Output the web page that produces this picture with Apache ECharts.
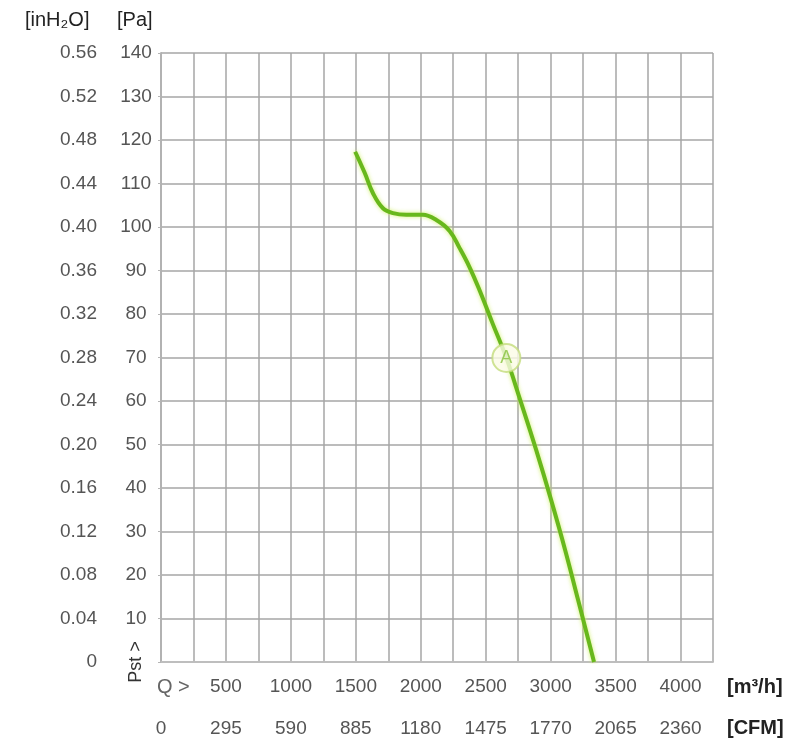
<!DOCTYPE html>
<html>
<head>
<meta charset="utf-8">
<script src="https://cdn.jsdelivr.net/npm/echarts@6/dist/echarts.min.js"></script>
<style>html,body{margin:0;padding:0;background:#fff}#c{width:808px;height:743px}</style>
</head>
<body>
<div id="c"></div>
<script>
// Fan curve: airflow [m3/h] vs static pressure [Pa]
const flow = [1495, 1569, 1633, 1709, 1786, 1889, 2016, 2120, 2222, 2298, 2375, 2452, 2552, 2659, 2766, 2889, 3004, 3112, 3211, 3334];
const pressure = [117.3, 112.4, 107.7, 104.3, 103.2, 102.8, 102.8, 101.6, 99.1, 95.2, 90.8, 85.5, 77.9, 69.9, 60.2, 48.7, 37.2, 25.7, 14.3, 0];
const pointA = [2659, 69.9];
const m3hTicks = [500, 1000, 1500, 2000, 2500, 3000, 3500, 4000];
const cfmTicks = ['0', '295', '590', '885', '1180', '1475', '1770', '2065', '2360'];
// Pa labels from 10 up (the 0 position holds the "Pst >" caption)
const paTicks = ['10', '20', '30', '40', '50', '60', '70', '80', '90', '100', '110', '120', '130', '140'];
const inH2OTicks = ['0', '0.04', '0.08', '0.12', '0.16', '0.20', '0.24', '0.28', '0.32', '0.36', '0.40', '0.44', '0.48', '0.52', '0.56'];

const FONT = 'Liberation Sans';
const GRID = '#a6a6a6';
const LABEL = '#555';
const chart = echarts.init(document.getElementById('c'));
const curve = flow.map((x, i) => [x, pressure[i]]);

chart.setOption({
  animation: false,
  backgroundColor: '#fff',
  grid: { left: 161, right: 95, top: 53, bottom: 81 },
  xAxis: [{
    type: 'value', min: 0, max: 4250, interval: 250, position: 'bottom',
    axisLine: { show: true, lineStyle: { color: GRID, width: 1.5 } },
    axisTick: { show: false },
    splitLine: { show: true, lineStyle: { color: GRID, width: 1.5 } },
    axisLabel: {
      margin: 15, color: LABEL, fontFamily: FONT, fontSize: 19,
      showMaxLabel: false,
      formatter: v => (m3hTicks.indexOf(v) >= 0 ? String(v) : '')
    }
  }, {
    type: 'value', min: 0, max: 4250, interval: 500, position: 'bottom', offset: 46,
    axisLine: { show: true, lineStyle: { color: '#c4c4c4', width: 1.5 } },
    axisTick: { show: false },
    splitLine: { show: false },
    axisLabel: {
      margin: 11, color: LABEL, fontFamily: FONT, fontSize: 19,
      showMaxLabel: false,
      formatter: v => { const k = v / 500; return Number.isInteger(k) && k < cfmTicks.length ? cfmTicks[k] : ''; }
    }
  }],
  yAxis: [{
    type: 'value', min: 0, max: 140, interval: 10, position: 'left',
    axisLine: { show: true, lineStyle: { color: GRID, width: 1.5 } },
    axisTick: { show: false },
    splitLine: { show: true, lineStyle: { color: GRID, width: 1.5 } },
    axisLabel: {
      margin: 25, align: 'center', color: LABEL, fontFamily: FONT, fontSize: 19,
      formatter: v => { const k = v / 10 - 1; return Number.isInteger(k) && k >= 0 && k < paTicks.length ? paTicks[k] : ''; }
    }
  }, {
    type: 'value', min: 0, max: 140, interval: 10, position: 'left', offset: 50,
    axisLine: { show: true, lineStyle: { color: '#b5b5b5', width: 1.5 } },
    axisTick: { show: true, length: 3, lineStyle: { color: '#b5b5b5' } },
    splitLine: { show: false },
    axisLabel: {
      margin: 14, align: 'right', color: LABEL, fontFamily: FONT, fontSize: 19,
      formatter: v => { const k = v / 10; return Number.isInteger(k) && k < inH2OTicks.length ? inH2OTicks[k] : ''; }
    }
  }],
  series: [{
    type: 'line', xAxisIndex: 0, yAxisIndex: 0, data: curve,
    smooth: 0.4, showSymbol: false, silent: true,
    lineStyle: { color: '#68b81c', width: 4, shadowColor: 'rgba(205,238,95,0.9)', shadowBlur: 4 },
    z: 3
  }, {
    type: 'scatter', xAxisIndex: 0, yAxisIndex: 0, data: [pointA],
    symbol: 'circle', symbolSize: 28, silent: true,
    itemStyle: { color: '#fbfbe6', borderColor: '#c3dc7c', borderWidth: 2 },
    label: { show: true, position: 'inside', formatter: 'A', color: '#86c23c', fontFamily: FONT, fontSize: 18 },
    z: 5
  }],
  graphic: [
    { type: 'text', left: 25, top: 10, style: { text: '[inH₂O]', font: '20px "Liberation Sans"', fill: '#222' } },
    { type: 'text', left: 117, top: 10, style: { text: '[Pa]', font: '20px "Liberation Sans"', fill: '#222' } },
    { type: 'text', x: 136, y: 662, rotation: Math.PI / 2,
      style: { text: 'Pst >', font: '18px "Liberation Sans"', fill: '#333', textAlign: 'center', textVerticalAlign: 'middle' } },
    { type: 'text', x: 157, y: 687, style: { text: 'Q >', font: '20px "Liberation Sans"', fill: '#666', textVerticalAlign: 'middle' } },
    { type: 'text', x: 727, y: 687, style: { text: '[m³/h]', font: 'bold 20px "Liberation Sans"', fill: '#222', textVerticalAlign: 'middle' } },
    { type: 'text', x: 727, y: 728, style: { text: '[CFM]', font: 'bold 20px "Liberation Sans"', fill: '#222', textVerticalAlign: 'middle' } }
  ]
});
</script>
</body>
</html>
